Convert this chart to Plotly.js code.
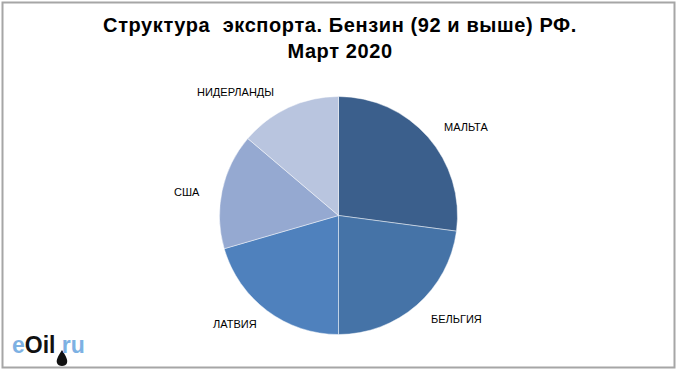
<!DOCTYPE html>
<html>
<head>
<meta charset="utf-8">
<script src="https://cdn.plot.ly/plotly-3.0.1.min.js"></script>
<style>
  html, body { margin: 0; padding: 0; background: #ffffff; }
  #chart { width: 680px; height: 374px; }
  .gtitle { letter-spacing: 0.6px; }
</style>
</head>
<body>
<div id="chart"></div>
<script>
// Data (shares, %)
const countries = ["МАЛЬТА", "БЕЛЬГИЯ", "ЛАТВИЯ", "США", "НИДЕРЛАНДЫ"];
const shares = [27.1, 22.9, 20.5, 15.7, 13.8];
const sliceColors = ["#3B5F8C", "#4573A7", "#4F81BD", "#95A9D1", "#B9C5DF"];

const W = 680, H = 374;
// label anchor positions in pixels (layout only)
const labelPx = [[466, 127], [456.5, 319], [234.5, 324], [186.5, 192], [235.5, 92]];

const trace = {
  type: "pie",
  labels: countries,
  values: shares,
  sort: false,
  direction: "clockwise",
  rotation: 0,
  textinfo: "none",
  hoverinfo: "label+percent",
  marker: { colors: sliceColors, line: { color: "rgba(255,255,255,0.45)", width: 1 } },
  domain: { x: [(338.5 - 119) / W, (338.5 + 119) / W], y: [(H - 215.5 - 119) / H, (H - 215.5 + 119) / H] },
  showlegend: false
};

const annotations = countries.map((c, i) => ({
  text: c,
  xref: "paper", yref: "paper",
  x: labelPx[i][0] / W, y: 1 - labelPx[i][1] / H,
  xanchor: "center", yanchor: "middle",
  showarrow: false,
  font: { family: "Arial, Liberation Sans, sans-serif", size: 11, color: "#000000" }
}));

annotations.push({
  text: '<b><span style="color:#7DB1E3">e</span><span style="color:#111111">Oil</span><span style="color:#7DB1E3"> ru</span></b>',
  xref: "paper", yref: "paper",
  x: 10 / W, y: 1 - 345 / H,
  xanchor: "left", yanchor: "middle",
  showarrow: false,
  font: { family: "Arial, Liberation Sans, sans-serif", size: 23, color: "#7DB1E3" }
});

const layout = {
  width: W, height: H,
  margin: { l: 0, r: 0, t: 0, b: 0 },
  paper_bgcolor: "#ffffff",
  title: {
    text: "<b>Структура  экспорта. Бензин (92 и выше) РФ.<br>Март 2020</b>",
    x: 0.5, xanchor: "center",
    y: 1 - 32 / H, yanchor: "top",
    yref: "container",
    font: { family: "Arial, Liberation Sans, sans-serif", size: 20, color: "#000000" }
  },
  annotations: annotations,
  shapes: [
    { type: "rect", xref: "paper", yref: "paper",
      x0: 2.5 / W, x1: 674.5 / W, y0: 1 - 367.5 / H, y1: 1 - 2.5 / H,
      line: { color: "#A6A6A6", width: 2 }, fillcolor: "rgba(0,0,0,0)" },
    { type: "path", xref: "paper", yref: "paper",
      path: "M " + (62 / W) + " " + (1 - 350 / H) +
            " C " + (58 / W) + " " + (1 - 356 / H) + " " + (56 / W) + " " + (1 - 360 / H) + " " + (57 / W) + " " + (1 - 363 / H) +
            " C " + (58 / W) + " " + (1 - 367 / H) + " " + (66 / W) + " " + (1 - 367 / H) + " " + (67 / W) + " " + (1 - 363 / H) +
            " C " + (68 / W) + " " + (1 - 360 / H) + " " + (66 / W) + " " + (1 - 356 / H) + " " + (62 / W) + " " + (1 - 350 / H) + " Z",
      fillcolor: "#111111", line: { width: 0 } }
  ]
};

Plotly.newPlot("chart", [trace], layout, { displayModeBar: false, staticPlot: true });
</script>
</body>
</html>
